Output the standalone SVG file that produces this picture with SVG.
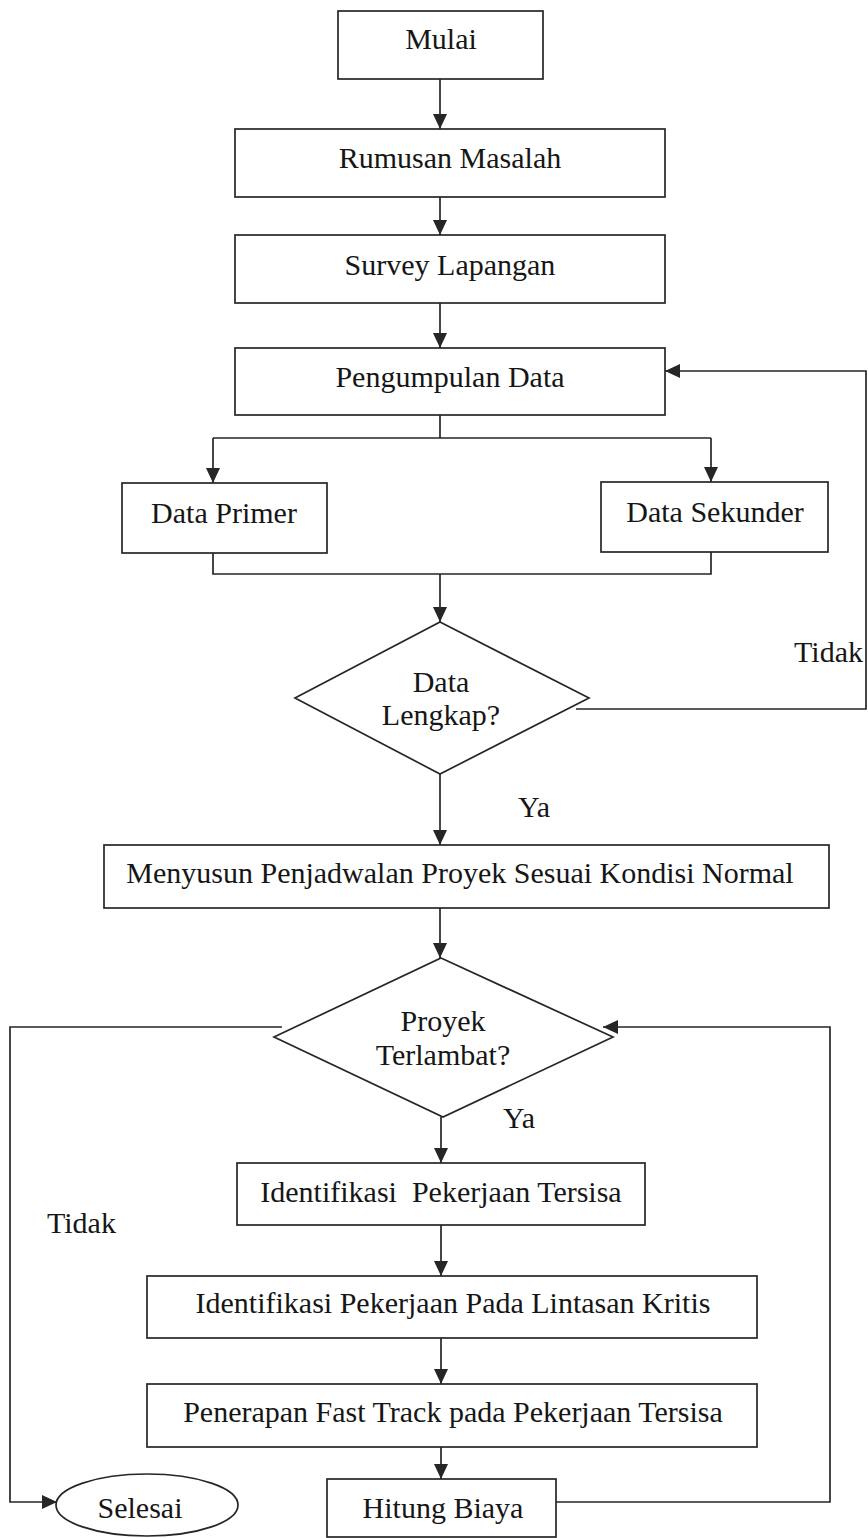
<svg xmlns="http://www.w3.org/2000/svg" width="868" height="1538" viewBox="0 0 868 1538">
<style>
.b{fill:#fff;stroke:#262626;stroke-width:1.7}
.c{fill:none;stroke:#262626;stroke-width:1.7}
.a{marker-end:url(#ah)}
text{font-family:"Liberation Serif","Times New Roman","DejaVu Serif",serif;font-size:30px;fill:#161616}
.m{text-anchor:middle}
</style>
<defs>
<marker id="ah" markerUnits="userSpaceOnUse" markerWidth="16" markerHeight="14" refX="15" refY="7" orient="auto">
<path d="M0,0 L15,7 L0,14 Z" fill="#262626"/>
</marker>
</defs>
<rect width="868" height="1538" fill="#fff"/>
<g id="connectors">
<path class="c a" d="M440,79 V129"/>
<path class="c a" d="M440,197 V235"/>
<path class="c a" d="M440,303 V348"/>
<path class="c" d="M440,415 V438 M213,438 H711"/>
<path class="c a" d="M213,438 V483"/>
<path class="c a" d="M711,438 V482"/>
<path class="c" d="M213,553 V574 H711 V552"/>
<path class="c a" d="M440,574 V622"/>
<path class="c a" d="M576,709 H866 V371 H665"/>
<path class="c a" d="M440,774 V845"/>
<path class="c a" d="M440,908 V958"/>
<path class="c a" d="M282,1027 H10 V1502 H57"/>
<path class="c a" d="M556,1502 H830 V1027 H603"/>
<path class="c a" d="M441,1117 V1163"/>
<path class="c a" d="M441,1225 V1276"/>
<path class="c a" d="M441,1338 V1384"/>
<path class="c a" d="M441,1447 V1479"/>
<text x="863" y="662" text-anchor="end">Tidak</text>
<text x="518" y="817">Ya</text>
<text x="503" y="1128">Ya</text>
<text x="47" y="1233">Tidak</text>
</g>
<g id="mulai">
<rect class="b" x="338" y="11" width="205" height="68"/>
<text class="m" x="441" y="49">Mulai</text>
</g>
<g id="rumusan">
<rect class="b" x="235" y="129" width="430" height="68"/>
<text class="m" x="450" y="168">Rumusan Masalah</text>
</g>
<g id="survey">
<rect class="b" x="235" y="235" width="430" height="68"/>
<text class="m" x="450" y="275">Survey Lapangan</text>
</g>
<g id="pengumpulan">
<rect class="b" x="235" y="348" width="430" height="67"/>
<text class="m" x="450" y="387">Pengumpulan Data</text>
</g>
<g id="primer">
<rect class="b" x="122" y="483" width="205" height="70"/>
<text class="m" x="224" y="523">Data Primer</text>
</g>
<g id="sekunder">
<rect class="b" x="601" y="482" width="227" height="70"/>
<text class="m" x="715" y="522">Data Sekunder</text>
</g>
<g id="lengkap">
<polygon class="b" points="440,622 589,698 440,774 295,698"/>
<text class="m" x="441" y="692">Data</text>
<text class="m" x="441" y="725">Lengkap?</text>
</g>
<g id="menyusun">
<rect class="b" x="104" y="845" width="725" height="63"/>
<text class="m" x="460" y="883">Menyusun Penjadwalan Proyek Sesuai Kondisi Normal</text>
</g>
<g id="terlambat">
<polygon class="b" points="441,958 613,1037 443,1117 274,1037"/>
<text class="m" x="443" y="1031">Proyek</text>
<text class="m" x="443" y="1065">Terlambat?</text>
</g>
<g id="tersisa">
<rect class="b" x="237" y="1163" width="408" height="62"/>
<text class="m" x="441" y="1202" xml:space="preserve">Identifikasi  Pekerjaan Tersisa</text>
</g>
<g id="kritis">
<rect class="b" x="147" y="1276" width="610" height="62"/>
<text class="m" x="453" y="1313">Identifikasi Pekerjaan Pada Lintasan Kritis</text>
</g>
<g id="fasttrack">
<rect class="b" x="147" y="1384" width="610" height="63"/>
<text class="m" x="453" y="1422">Penerapan Fast Track pada Pekerjaan Tersisa</text>
</g>
<g id="hitung">
<rect class="b" x="327" y="1479" width="229" height="58"/>
<text class="m" x="443" y="1518">Hitung Biaya</text>
</g>
<g id="selesai">
<ellipse class="b" cx="147" cy="1505" rx="91" ry="31"/>
<text class="m" x="140" y="1518">Selesai</text>
</g>
</svg>
